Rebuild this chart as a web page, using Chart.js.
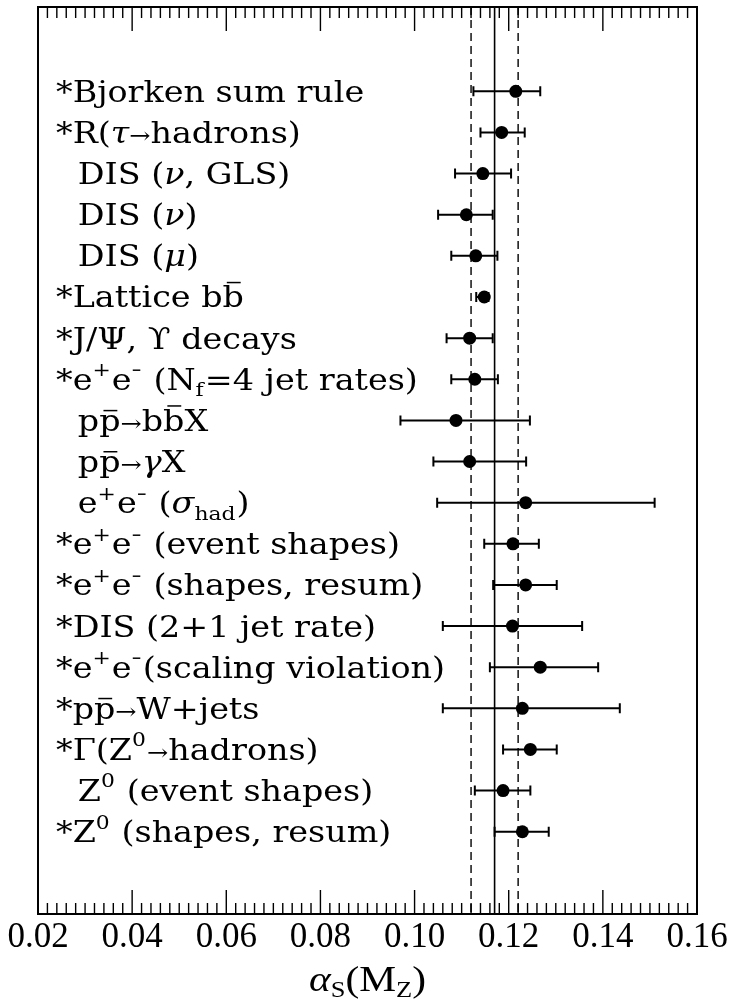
<!DOCTYPE html>
<html>
<head>
<meta charset="utf-8">
<script src="https://cdn.jsdelivr.net/npm/chart.js@4/dist/chart.umd.min.js"></script>
<style>
  html, body { margin: 0; padding: 0; background: #fff; }
  #wrap { width: 732px; height: 1003px; }
</style>
</head>
<body>
<div id="wrap"><canvas id="chart" width="732" height="1003"></canvas></div>
<script>
// Determinations of alpha_s(M_Z); "*" marks the ones entering the average.
// Markup: ^{..} superscript, _{..} subscript, \bar{x} overlined character.
const measurements = [
  '*Bjorken sum rule',
  '*R(\u03c4\u2192hadrons)',
  ' DIS (\u03bd, GLS)',
  ' DIS (\u03bd)',
  ' DIS (\u03bc)',
  '*Lattice b\\bar{b}',
  '*J/\u03a8, \u03d2 decays',
  '*e^{+}e^{\u2212} (N_{f}=4 jet rates)',
  ' p\\bar{p}\u2192b\\bar{b}X',
  ' p\\bar{p}\u2192\u03b3X',
  ' e^{+}e^{\u2212} (\u03c3_{had})',
  '*e^{+}e^{\u2212} (event shapes)',
  '*e^{+}e^{\u2212} (shapes, resum)',
  '*DIS (2+1 jet rate)',
  '*e^{+}e^{\u2212}(scaling violation)',
  '*p\\bar{p}\u2192W+jets',
  '*\u0393(Z^{0}\u2192hadrons)',
  ' Z^{0} (event shapes)',
  '*Z^{0} (shapes, resum)'
];
const central = [0.1215, 0.1185, 0.1145, 0.1110, 0.1130, 0.1148, 0.1117, 0.1128, 0.1088, 0.1117,
                 0.1236, 0.1209, 0.1236, 0.1208, 0.1267, 0.1229, 0.1246, 0.1188, 0.1229];
const lower   = [0.1125, 0.1140, 0.1086, 0.1050, 0.1078, 0.1131, 0.1068, 0.1078, 0.0970, 0.1040,
                 0.1048, 0.1148, 0.1167, 0.1060, 0.1160, 0.1060, 0.1188, 0.1128, 0.1170];
const upper   = [0.1267, 0.1234, 0.1205, 0.1166, 0.1176, 0.1157, 0.1166, 0.1177, 0.1245, 0.1237,
                 0.1510, 0.1264, 0.1302, 0.1356, 0.1390, 0.1436, 0.1302, 0.1246, 0.1285];
const xTickValues = [0.02, 0.04, 0.06, 0.08, 0.10, 0.12, 0.14, 0.16];
const worldAverage = 0.117;
const averageBand = [0.112, 0.122];

const INK = '#000';
const LABEL_FAMILY = '"DejaVu Serif"';
const LABEL_SIZE = 29;
const LABEL_STRETCH = 1.15;
const INDENT = 19;

function parseLabel(s) {
  const out = [];
  let i = 0;
  if (s[0] === ' ') { out.push({ kind: 'indent' }); i = 1; }
  while (i < s.length) {
    const c = s[i];
    if ((c === '^' || c === '_') && s[i + 1] === '{') {
      const j = s.indexOf('}', i);
      out.push({ t: s.slice(i + 2, j), kind: c === '^' ? 'sup' : 'sub' });
      i = j + 1;
    } else if (s.startsWith('\\bar{', i)) {
      const j = s.indexOf('}', i);
      out.push({ t: s.slice(i + 5, j), kind: 'bar' });
      i = j + 1;
    } else {
      out.push({ t: c, kind: 'n' });
      i++;
    }
  }
  return out;
}

function isLowerGreek(ch) { const k = ch.charCodeAt(0); return k >= 0x3b1 && k <= 0x3c9; }

function drawLabel(ctx, tokens, x0, baseline) {
  const sz = LABEL_SIZE;
  const small = Math.round(sz * 0.66);
  let x = x0;
  for (const tk of tokens) {
    if (tk.kind === 'indent') { x += INDENT; continue; }
    if (tk.kind === 'sup' || tk.kind === 'sub') {
      ctx.font = `${small}px ${LABEL_FAMILY}`;
      const dy = tk.kind === 'sup' ? -sz * 0.47 : sz * 0.22;
      // a narrower minus sign keeps e+e- compact
      const narrow = tk.t === '\u2212' ? 0.55 : 1;
      ctx.save();
      ctx.translate(x, baseline + dy);
      ctx.scale(narrow, 1);
      ctx.fillText(tk.t, 0, 0);
      ctx.restore();
      x += ctx.measureText(tk.t).width * narrow + 1;
      continue;
    }
    for (const ch of tk.t) {
      let font = `${sz}px ${LABEL_FAMILY}`;
      if (isLowerGreek(ch)) font = `italic ${sz}px ${LABEL_FAMILY}`;
      else if (ch === '\u2192') font = `${Math.round(sz * 0.75)}px ${LABEL_FAMILY}`;
      ctx.font = font;
      const w = ctx.measureText(ch).width;
      ctx.fillText(ch, x, baseline);
      if (tk.kind === 'bar') {
        const top = ch === 'b' ? baseline - sz * 0.86 : baseline - sz * 0.7;
        ctx.save();
        ctx.lineWidth = 1.5;
        ctx.beginPath();
        ctx.moveTo(x + w * 0.2, top);
        ctx.lineTo(x + w * 0.85, top);
        ctx.stroke();
        ctx.restore();
      }
      x += w;
    }
  }
}

const framePlugin = {
  id: 'frame',
  beforeDatasetsDraw(chart) {
    const { ctx, chartArea: a, scales: { x, y } } = chart;
    ctx.save();
    ctx.strokeStyle = INK;

    // average and its band
    ctx.lineWidth = 1.4;
    ctx.setLineDash([8, 5]);
    for (const v of averageBand) {
      const px = x.getPixelForValue(v);
      ctx.beginPath(); ctx.moveTo(px, a.top); ctx.lineTo(px, a.bottom); ctx.stroke();
    }
    ctx.setLineDash([]);
    ctx.lineWidth = 1.6;
    const pa = x.getPixelForValue(worldAverage);
    ctx.beginPath(); ctx.moveTo(pa, a.top); ctx.lineTo(pa, a.bottom); ctx.stroke();

    // horizontal error bars with end caps
    ctx.lineWidth = 2;
    for (let i = 0; i < central.length; i++) {
      const py = y.getPixelForValue(i);
      const x1 = x.getPixelForValue(lower[i]);
      const x2 = x.getPixelForValue(upper[i]);
      ctx.beginPath();
      ctx.moveTo(x1, py); ctx.lineTo(x2, py);
      ctx.moveTo(x1, py - 5); ctx.lineTo(x1, py + 5);
      ctx.moveTo(x2, py - 5); ctx.lineTo(x2, py + 5);
      ctx.stroke();
    }

    // inward ticks on top and bottom edges
    ctx.lineWidth = 1.4;
    const nMinor = Math.round((x.max - x.min) / 0.002);
    for (let k = 0; k <= nMinor; k++) {
      const px = x.getPixelForValue(x.min + k * 0.002);
      const len = k % 10 === 0 ? 24 : 11;
      ctx.beginPath();
      ctx.moveTo(px, a.bottom); ctx.lineTo(px, a.bottom - len);
      ctx.moveTo(px, a.top); ctx.lineTo(px, a.top + len);
      ctx.stroke();
    }

    // frame
    ctx.lineWidth = 2;
    ctx.strokeRect(a.left, a.top, a.right - a.left, a.bottom - a.top);
    ctx.restore();
  },
  afterDraw(chart) {
    const { ctx, chartArea: a, scales: { y } } = chart;
    ctx.save();
    ctx.fillStyle = INK;
    ctx.strokeStyle = INK;
    ctx.textBaseline = 'alphabetic';
    ctx.textAlign = 'left';
    measurements.forEach((m, i) => {
      const py = y.getPixelForValue(i);
      ctx.save();
      ctx.translate(56, 0);
      ctx.scale(LABEL_STRETCH, 1);
      drawLabel(ctx, parseLabel(m), 0, py + 10.5);
      ctx.restore();
    });

    // axis title: alpha_S(M_Z)
    const big = 36, sub = 23;
    const base = 991;
    const parts = [
      { t: '\u03b1', f: `italic ${big}px "Liberation Serif"`, dy: 0 },
      { t: 'S', f: `${sub}px "Liberation Serif"`, dy: 6 },
      { t: '(M', f: `${big}px "Liberation Serif"`, dy: 0 },
      { t: 'Z', f: `${sub}px "Liberation Serif"`, dy: 6 },
      { t: ')', f: `${big}px "Liberation Serif"`, dy: 0 }
    ];
    const stretch = 1.15;
    let total = 0;
    for (const p of parts) { ctx.font = p.f; p.w = ctx.measureText(p.t).width; total += p.w; }
    ctx.translate((a.left + a.right) / 2 - total * stretch / 2, 0);
    ctx.scale(stretch, 1);
    let tx = 0;
    for (const p of parts) {
      ctx.font = p.f;
      ctx.fillText(p.t, tx, base + p.dy);
      tx += p.w;
    }
    ctx.restore();
  }
};

new Chart(document.getElementById('chart'), {
  type: 'scatter',
  data: {
    datasets: [{
      data: central.map((v, i) => ({ x: v, y: i })),
      pointRadius: 6.5,
      pointHoverRadius: 6.5,
      backgroundColor: INK,
      borderColor: INK,
      borderWidth: 0
    }]
  },
  options: {
    responsive: false,
    animation: false,
    events: [],
    layout: { padding: { left: 38, right: 35, top: 7, bottom: 41 } },
    plugins: { legend: { display: false }, tooltip: { enabled: false } },
    scales: {
      x: {
        type: 'linear',
        min: 0.02,
        max: 0.16,
        afterBuildTicks(scale) { scale.ticks = xTickValues.map(v => ({ value: v })); },
        grid: { display: false, drawTicks: false },
        border: { display: false },
        ticks: {
          padding: 3,
          color: INK,
          font: { family: '"Liberation Serif"', size: 35, lineHeight: 1.2 },
          callback: v => Number(v).toFixed(2),
          maxRotation: 0,
          autoSkip: false
        }
      },
      y: {
        type: 'linear',
        reverse: true,
        min: -2.05,
        max: 20,
        display: false
      }
    }
  },
  plugins: [framePlugin]
});
</script>
</body>
</html>
